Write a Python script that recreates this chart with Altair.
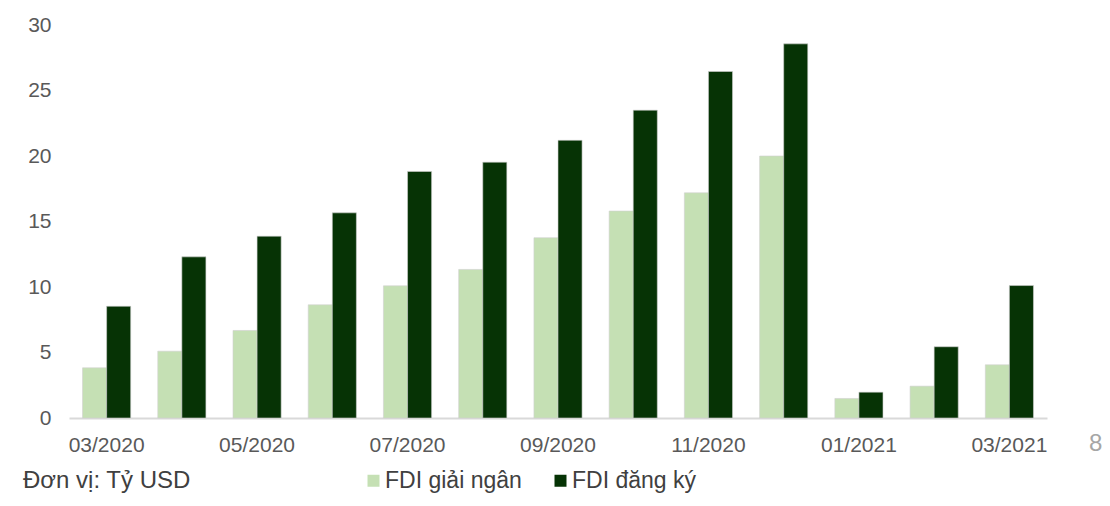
import altair as alt
import pandas as pd

months = ["03/2020", "04/2020", "05/2020", "06/2020", "07/2020", "08/2020", "09/2020",
          "10/2020", "11/2020", "12/2020", "01/2021", "02/2021", "03/2021"]
giai_ngan = [3.83, 5.1, 6.68, 8.64, 10.09, 11.34, 13.76, 15.8, 17.19, 20.0, 1.49, 2.43, 4.06]
dang_ky = [8.53, 12.3, 13.88, 15.66, 18.82, 19.53, 21.2, 23.5, 26.45, 28.56, 1.97, 5.44, 10.11]
series = ["FDI giải ngân", "FDI đăng ký"]
colors = ["#C5E0B4", "#063305"]
shown_ticks = ["03/2020", "05/2020", "07/2020", "09/2020", "11/2020", "01/2021", "03/2021"]
y_ticks = [0, 5, 10, 15, 20, 25, 30]
unit_note = "Đơn vị: Tỷ USD"
page_no = "8"

rows = []
for m, a, b in zip(months, giai_ngan, dang_ky):
    rows.append({"month": m, "series": series[0], "value": a})
    rows.append({"month": m, "series": series[1], "value": b})
df = pd.DataFrame(rows)

FONT = "Liberation Sans"

bars = alt.Chart(df).mark_bar(stroke="#d0d0d0", strokeWidth=0.6).encode(
    x=alt.X("month:N", sort=months, title=None,
            scale=alt.Scale(paddingInner=0.36, paddingOuter=0.18),
            axis=alt.Axis(values=shown_ticks, labelAngle=0, ticks=False,
                          domainColor="#d9d9d9", domainWidth=2,
                          labelFont=FONT, labelFontSize=21, labelColor="#595959",
                          labelPadding=16, grid=False)),
    xOffset=alt.XOffset("series:N", sort=series, scale=alt.Scale(domain=series)),
    y=alt.Y("value:Q", title=None,
            scale=alt.Scale(domain=[0, 30], nice=False),
            axis=alt.Axis(values=y_ticks, ticks=False, domain=False, grid=False,
                          labelFont=FONT, labelFontSize=21, labelColor="#595959",
                          labelPadding=18)),
    color=alt.Color("series:N", sort=series,
                    scale=alt.Scale(domain=series, range=colors),
                    legend=alt.Legend(title=None, orient="none", direction="horizontal",
                                      legendX=293, legendY=444,
                                      symbolType="square", symbolSize=144,
                                      symbolStrokeWidth=0, labelFont=FONT,
                                      labelFontSize=23, labelColor="#404040",
                                      labelOffset=0, columnPadding=27)),
)

note = alt.Chart(pd.DataFrame({"t": [unit_note]})).mark_text(
    align="left", baseline="middle", font=FONT, fontSize=24, color="#404040"
).encode(x=alt.value(-46), y=alt.value(456), text="t:N")

page = alt.Chart(pd.DataFrame({"t": [page_no]})).mark_text(
    align="left", baseline="middle", font=FONT, fontSize=24, color="#a6a6a6"
).encode(x=alt.value(1020), y=alt.value(419), text="t:N")

chart = alt.layer(bars, note, page).properties(
    width=978, height=393,
    autosize=alt.AutoSizeParams(type="none"),
    padding={"left": 61, "top": 17, "right": 55, "bottom": 80},
).configure_view(stroke=None)

chart.save("out.html", embed_options={"renderer": "svg", "actions": False})
